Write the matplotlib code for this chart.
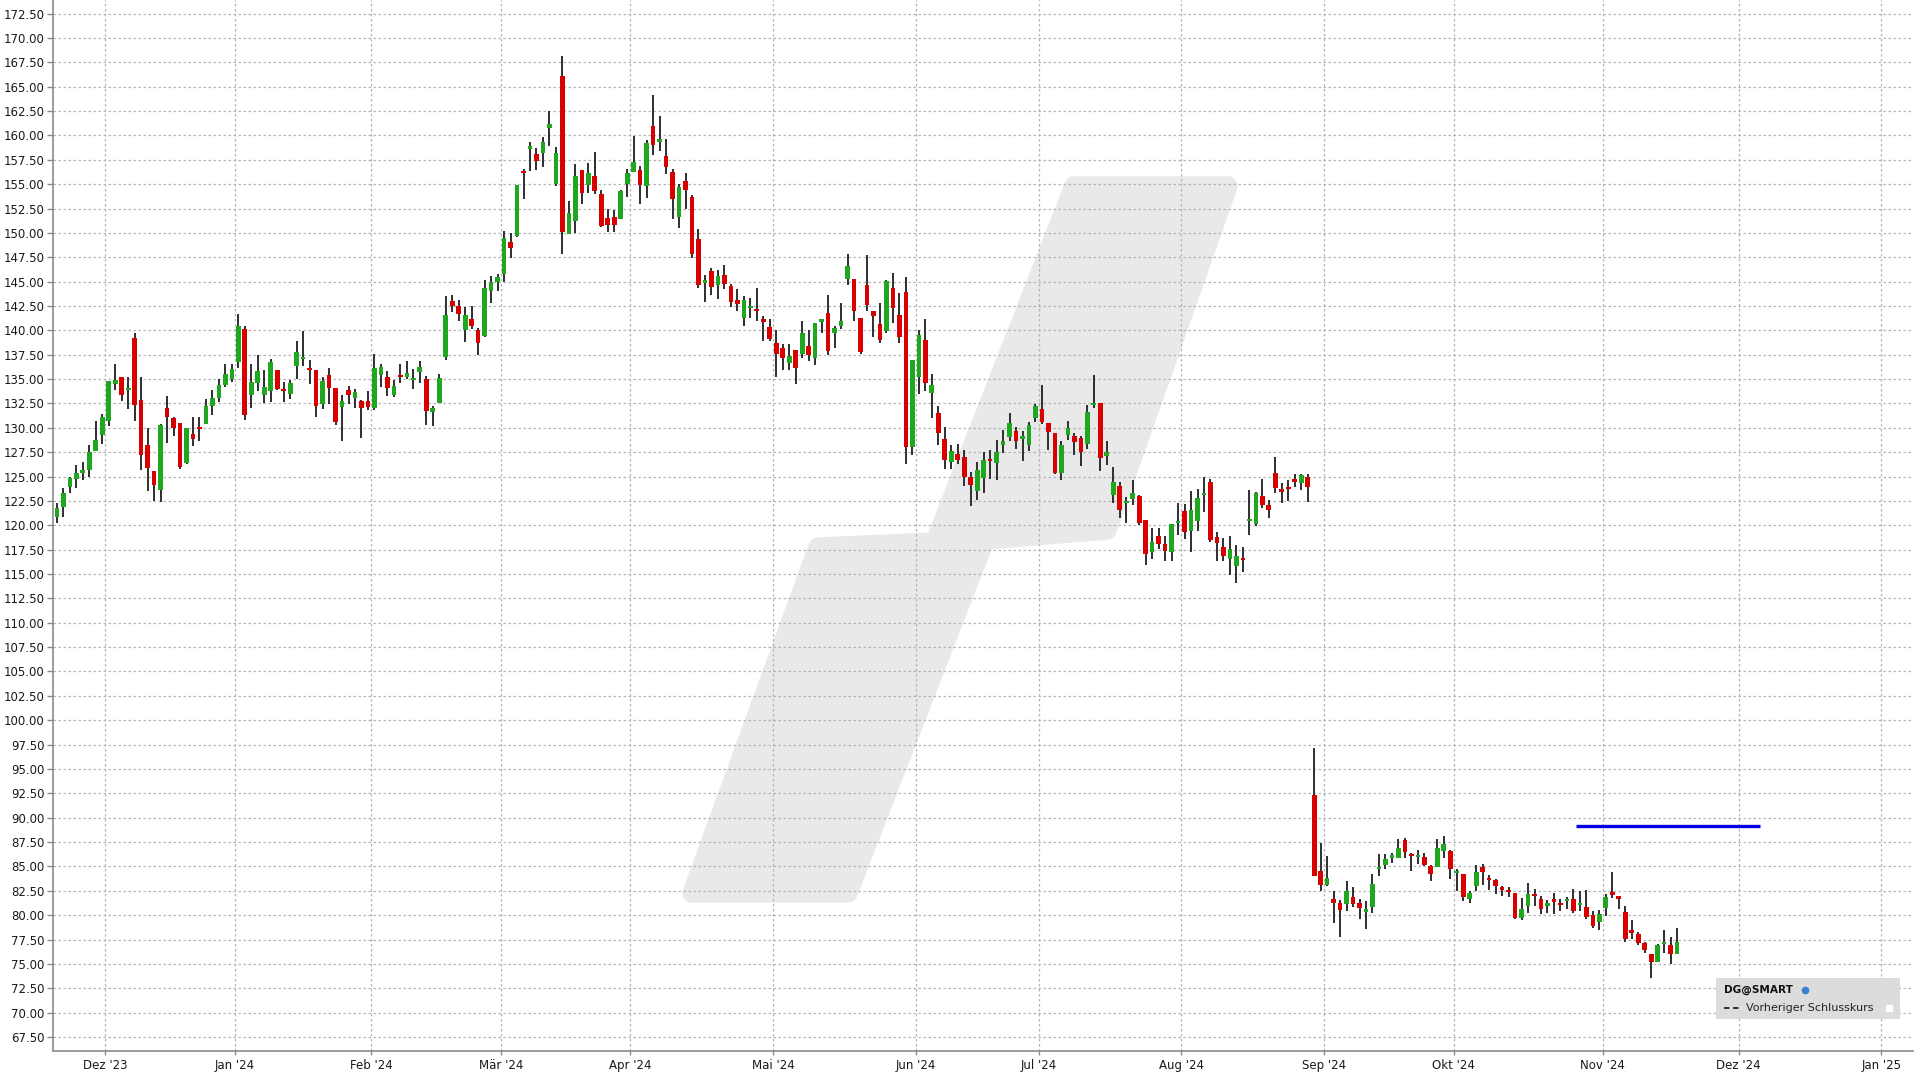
import matplotlib
matplotlib.use("Agg")
import matplotlib.pyplot as plt
from matplotlib.patches import Polygon, Rectangle
import numpy as np

# ---------------------------------------------------------------------------
# Data: daily OHLC, one entry per trading day (Nov 2023 - mid Nov 2024)
# ---------------------------------------------------------------------------
OPEN = [
    120.9, 121.9, 123.9, 124.7, 125.4, 125.7, 127.6, 129.3, 130.7, 134.5,
    135.2, 133.9, 139.2, 132.9, 128.2, 125.6, 123.6, 132.0, 131.0, 130.5,
    126.4, 129.4, 130.0, 130.4, 132.2, 133.1, 134.4, 135.0, 136.8, 140.1,
    133.4, 134.6, 133.4, 133.8, 135.9, 134.0, 133.5, 136.3, 137.1, 136.1,
    135.9, 132.4, 135.4, 134.1, 132.1, 133.9, 133.1, 132.8, 132.8, 132.0,
    135.4, 135.2, 133.4, 135.4, 135.2, 134.9, 135.7, 135.0, 131.6, 132.6,
    137.3, 143.0, 142.5, 140.0, 141.2, 140.0, 139.4, 144.0, 145.0, 145.8,
    149.1, 149.7, 156.2, 158.6, 158.1, 158.2, 160.8, 155.0, 166.1, 149.9,
    151.2, 156.5, 154.9, 155.8, 154.0, 151.5, 151.6, 151.4, 155.0, 156.3,
    156.5, 154.8, 161.0, 159.3, 157.9, 156.3, 151.6, 155.3, 153.7, 149.4,
    144.9, 146.1, 144.7, 145.7, 144.6, 143.1, 141.3, 142.3, 142.2, 141.1,
    140.3, 138.7, 138.2, 136.7, 138.0, 137.6, 138.4, 137.2, 140.9, 141.8,
    139.7, 140.5, 145.3, 145.3, 141.3, 144.7, 142.0, 140.7, 139.9, 144.4,
    141.6, 143.9, 128.0, 135.2, 139.0, 133.6, 131.5, 128.9, 126.5, 127.3,
    127.0, 125.0, 123.5, 124.9, 126.8, 126.4, 128.2, 129.1, 129.7, 128.9,
    128.2, 131.0, 131.9, 130.5, 129.5, 125.4, 129.3, 129.2, 129.0, 128.3,
    132.3, 132.5, 127.1, 123.1, 124.0, 122.3, 122.7, 123.0, 120.5, 117.3,
    118.9, 118.1, 117.3, 120.2, 121.5, 119.4, 120.4, 123.1, 124.4, 118.8,
    117.8, 116.5, 115.8, 116.6, 120.4, 120.1, 123.0, 122.1, 125.4, 123.7,
    123.9, 124.7, 124.3, 125.0, 92.3, 84.5, 83.1, 81.7, 81.2, 81.1,
    81.9, 81.2, 80.3, 80.8, 84.7, 85.1, 85.9, 85.9, 87.7, 86.3,
    86.0, 86.0, 85.0, 84.9, 86.6, 86.6, 84.3, 84.2, 81.7, 83.0,
    84.9, 83.8, 83.6, 82.9, 82.6, 82.3, 79.7, 80.9, 82.2, 81.7,
    80.9, 81.7, 81.2, 81.4, 81.7, 81.0, 80.8, 80.0, 79.3, 80.7,
    82.4, 82.0, 80.3, 78.5, 78.1, 77.1, 76.0, 75.2, 77.0, 76.9,
    76.0,
]
HIGH = [
    122.3, 123.8, 125.0, 126.2, 126.5, 128.2, 130.7, 131.4, 134.8, 136.5,
    135.2, 135.2, 139.7, 135.2, 130.0, 125.6, 130.4, 133.3, 131.1, 130.5,
    130.0, 131.1, 131.1, 133.0, 133.9, 135.0, 136.6, 136.6, 141.7, 140.4,
    136.5, 137.5, 135.9, 137.1, 135.9, 134.7, 134.9, 138.9, 139.9, 137.0,
    135.9, 135.2, 136.1, 134.1, 133.4, 134.3, 134.0, 132.9, 133.8, 137.6,
    136.6, 135.8, 134.9, 136.5, 136.9, 136.0, 136.9, 135.3, 132.2, 135.5,
    143.5, 143.6, 143.1, 142.4, 142.5, 140.2, 145.2, 145.6, 145.8, 150.2,
    150.0, 154.9, 156.6, 159.3, 158.7, 159.8, 162.5, 158.8, 168.2, 153.3,
    157.1, 156.5, 157.2, 158.3, 154.4, 152.5, 152.4, 154.4, 156.6, 159.9,
    156.9, 159.5, 164.2, 162.0, 159.6, 156.6, 155.0, 156.2, 153.9, 150.4,
    145.7, 146.4, 146.2, 146.7, 144.8, 144.2, 143.5, 143.3, 144.3, 141.5,
    141.2, 140.0, 138.6, 138.6, 138.0, 141.0, 140.0, 140.8, 141.2, 143.6,
    140.5, 142.8, 147.8, 145.3, 141.3, 147.7, 142.0, 142.8, 145.2, 145.9,
    143.8, 145.5, 137.0, 140.0, 141.2, 135.5, 132.2, 130.1, 128.2, 128.3,
    127.7, 125.5, 126.5, 127.5, 127.7, 128.8, 129.8, 131.5, 130.1, 129.7,
    130.6, 132.4, 134.4, 130.5, 129.5, 128.6, 130.7, 129.5, 129.2, 132.3,
    135.4, 132.5, 128.7, 126.0, 124.4, 122.9, 124.6, 123.1, 120.5, 119.7,
    119.7, 118.9, 120.1, 122.3, 122.2, 123.5, 123.7, 125.0, 124.7, 119.3,
    118.7, 118.9, 118.0, 117.8, 123.6, 123.4, 124.7, 122.6, 127.0, 124.3,
    124.6, 125.3, 125.3, 125.3, 97.1, 87.4, 86.1, 82.5, 81.6, 83.5,
    82.9, 81.7, 81.4, 84.2, 86.3, 86.3, 86.4, 87.8, 87.9, 86.4,
    86.7, 86.4, 85.1, 87.8, 88.1, 86.7, 84.7, 84.2, 82.5, 85.1,
    85.2, 84.1, 83.7, 83.0, 82.9, 82.3, 81.8, 83.3, 82.7, 82.0,
    81.6, 82.3, 81.7, 81.9, 82.7, 82.5, 82.6, 80.4, 80.5, 82.2,
    84.4, 82.0, 80.9, 79.5, 78.3, 77.2, 76.0, 77.0, 78.5, 77.8,
    78.7,
]
LOW = [
    120.2, 120.9, 123.3, 123.8, 124.6, 125.0, 127.6, 128.3, 130.2, 133.9,
    132.8, 131.9, 130.7, 125.7, 123.5, 122.5, 122.4, 128.4, 129.2, 125.8,
    126.3, 128.1, 128.6, 130.4, 131.3, 132.7, 134.2, 134.7, 136.1, 130.8,
    132.0, 133.8, 132.5, 132.7, 133.9, 132.7, 133.0, 135.0, 136.3, 134.5,
    131.1, 131.9, 132.4, 130.3, 128.7, 132.4, 132.0, 129.0, 131.8, 131.8,
    134.2, 133.3, 133.2, 134.6, 135.0, 134.0, 134.6, 130.3, 130.2, 132.5,
    137.0, 141.9, 141.0, 138.8, 140.1, 137.5, 139.3, 142.8, 144.0, 145.0,
    147.4, 149.6, 153.5, 156.4, 156.5, 156.8, 158.9, 154.8, 147.8, 149.9,
    150.0, 153.0, 154.1, 154.0, 150.6, 150.1, 150.1, 151.4, 153.7, 156.3,
    153.0, 153.6, 158.0, 158.4, 156.0, 151.4, 150.5, 152.5, 147.4, 144.4,
    142.9, 143.6, 143.2, 144.2, 142.4, 142.0, 140.5, 141.3, 141.0, 138.9,
    138.9, 135.2, 135.9, 135.9, 134.5, 137.2, 136.9, 136.4, 139.7, 137.5,
    138.2, 140.1, 144.7, 141.0, 137.6, 142.0, 139.3, 138.7, 139.7, 140.8,
    138.7, 126.3, 127.2, 133.5, 133.8, 131.0, 128.2, 125.8, 125.8, 126.3,
    124.0, 122.0, 122.6, 123.3, 124.8, 124.6, 127.4, 128.6, 127.8, 126.6,
    127.6, 130.6, 130.4, 127.7, 125.3, 124.6, 128.8, 127.2, 126.1, 127.8,
    132.0, 125.6, 126.2, 122.3, 120.7, 120.2, 122.1, 120.0, 115.9, 116.5,
    117.6, 116.3, 116.3, 119.0, 118.6, 117.3, 119.4, 121.4, 118.3, 116.3,
    116.3, 114.9, 114.1, 115.2, 119.0, 119.9, 121.8, 120.8, 123.3, 122.3,
    122.5, 123.9, 123.6, 122.4, 84.0, 82.5, 83.0, 79.2, 77.8, 80.4,
    80.8, 79.6, 78.6, 80.2, 84.0, 84.7, 85.3, 85.9, 85.9, 84.5,
    85.2, 85.0, 83.5, 84.9, 85.9, 83.7, 82.5, 81.5, 81.2, 82.5,
    83.1, 82.6, 82.2, 82.0, 81.9, 79.6, 79.5, 80.2, 80.9, 80.1,
    80.2, 80.1, 80.4, 80.6, 80.2, 80.4, 79.6, 78.7, 78.5, 79.9,
    81.8, 80.6, 77.2, 77.6, 76.9, 76.1, 73.6, 75.2, 76.1, 75.0,
    76.0,
]
CLOSE = [
    121.8, 123.3, 124.9, 125.4, 125.7, 127.5, 128.8, 131.1, 134.8, 134.9,
    133.4, 134.0, 132.3, 127.2, 125.9, 124.1, 130.3, 131.1, 130.0, 126.0,
    130.0, 128.9, 129.9, 132.2, 133.1, 134.4, 135.5, 136.0, 140.4, 131.3,
    134.7, 135.8, 134.2, 136.8, 134.0, 133.8, 134.6, 137.8, 137.2, 135.9,
    132.2, 134.8, 134.1, 130.6, 132.8, 133.4, 133.7, 132.0, 132.1, 136.1,
    136.2, 134.1, 134.3, 135.2, 135.6, 135.1, 136.2, 131.7, 132.0, 135.1,
    141.6, 142.5, 141.7, 141.6, 140.4, 138.7, 144.3, 145.0, 145.5, 149.5,
    148.5, 154.9, 156.1, 158.9, 157.4, 159.3, 161.2, 158.2, 150.1, 152.0,
    155.8, 154.1, 156.1, 154.3, 150.7, 150.8, 150.8, 154.3, 156.1, 157.3,
    154.9, 159.2, 159.0, 159.6, 156.8, 153.5, 154.7, 154.4, 147.8, 144.7,
    145.1, 144.5, 145.6, 144.8, 142.9, 142.7, 143.1, 142.5, 142.0, 140.9,
    139.1, 137.6, 137.2, 137.4, 136.1, 139.7, 137.5, 140.8, 141.0, 137.9,
    140.2, 141.0, 146.6, 142.0, 137.8, 142.6, 141.5, 139.0, 145.1, 142.3,
    139.3, 128.0, 137.0, 139.5, 134.6, 134.4, 129.5, 126.7, 127.6, 126.7,
    125.0, 124.1, 125.7, 126.7, 126.6, 127.5, 128.7, 130.5, 128.6, 129.0,
    130.3, 132.2, 130.6, 129.6, 125.4, 128.2, 130.0, 128.5, 127.5, 131.6,
    132.4, 126.9, 127.5, 124.4, 121.6, 122.4, 123.3, 120.2, 117.1, 118.3,
    118.1, 117.4, 120.1, 120.4, 119.3, 121.6, 122.8, 123.3, 118.5, 118.2,
    116.8, 117.6, 116.8, 116.4, 120.5, 123.3, 122.1, 121.6, 123.8, 123.4,
    123.7, 124.4, 125.2, 123.9, 84.0, 83.1, 83.8, 81.2, 80.5, 82.5,
    81.1, 80.7, 80.6, 83.2, 84.8, 85.8, 86.0, 86.9, 86.5, 86.1,
    86.1, 85.1, 84.2, 86.9, 87.3, 84.7, 84.5, 81.9, 82.3, 84.4,
    84.4, 83.6, 83.0, 82.6, 82.4, 79.7, 80.6, 82.2, 82.0, 80.6,
    81.2, 81.3, 81.0, 81.5, 80.4, 81.2, 79.8, 78.9, 80.1, 81.9,
    82.1, 81.7, 77.6, 78.2, 77.1, 76.4, 75.2, 76.9, 77.1, 76.0,
    77.2,
]

# index of the first trading day of every month shown on the x axis
MONTH_FIRST = [8, 28, 49, 69, 89, 111, 133, 152, 174, 196, 216, 239, 260, 282]
MONTH_LABELS = ["Dez '23", "Jan '24", "Feb '24", "M\u00e4r '24", "Apr '24", "Mai '24",
                "Jun '24", "Jul '24", "Aug '24", "Sep '24", "Okt '24", "Nov '24",
                "Dez '24", "Jan '25"]

# blue reference line (level, start index, end index)
REF_LEVEL = 89.15
REF_START = 234.4
REF_END = 262.8

Y_TICKS = np.arange(67.5, 172.51, 2.5)

# ---------------------------------------------------------------------------
# Style
# ---------------------------------------------------------------------------
GREEN = "#1fa81f"
RED = "#d90000"
WICK = "#2e2e2e"
GRID = "#b4b4b4"
SPINE = "#8a8a8a"
LOGO = "#e9e9e9"

W, H = 1920, 1080
AX_L, AX_R, AX_T, AX_B = 53, 1913, 0, 1051   # axes box in pixels


def px(x, y):
    """pixel position in the picture -> axes fraction"""
    return ((x - AX_L) / (AX_R - AX_L), (AX_B - y) / (AX_B - AX_T))


fig = plt.figure(figsize=(W / 100, H / 100), dpi=100)
ax = fig.add_axes([AX_L / W, 1 - AX_B / H, (AX_R - AX_L) / W, (AX_B - AX_T) / H])
ax.set_facecolor("white")

# ---- watermark logo -------------------------------------------------------
logo_pts = [px(1074, 186), px(1228, 186), px(1107, 530), px(985, 540),
            px(848, 893), px(692, 893), px(818, 547), px(935, 542)]
ax.add_patch(Polygon(logo_pts, closed=True, transform=ax.transAxes,
                     facecolor=LOGO, edgecolor=LOGO, linewidth=14,
                     joinstyle="round", zorder=0))

# ---- grid -----------------------------------------------------------------
ax.set_yticks(Y_TICKS)
ax.set_yticklabels([f"{v:.2f}" for v in Y_TICKS])
ax.set_xticks([m - 0.5 for m in MONTH_FIRST])
ax.set_xticklabels(MONTH_LABELS)
ax.grid(True, color=GRID, linewidth=0.9, linestyle=(0, (2, 2)), zorder=1)
ax.set_axisbelow(True)

# ---- candles --------------------------------------------------------------
o = np.array(OPEN)
h = np.array(HIGH)
lo = np.array(LOW)
c = np.array(CLOSE)
x = np.arange(len(o))
up = c >= o
colors = np.where(up, GREEN, RED)

ax.vlines(x, lo, h, color=WICK, linewidth=1.4, zorder=3)
body_bottom = np.minimum(o, c)
body_h = np.maximum(np.abs(c - o), 0.22)
ax.bar(x, body_h, bottom=body_bottom, width=0.72, color=colors,
       linewidth=0, zorder=4)

# ---- reference line -------------------------------------------------------
ax.hlines(REF_LEVEL, REF_START, REF_END, color="#0000e0", linewidth=2.4, zorder=5)

# ---- axes styling ---------------------------------------------------------
ax.set_xlim(-0.6, 286.4)
ax.set_ylim(66.06, 173.9)
for side in ("top", "right"):
    ax.spines[side].set_visible(False)
for side in ("left", "bottom"):
    ax.spines[side].set_color(SPINE)
    ax.spines[side].set_linewidth(1.2)
ax.tick_params(axis="y", length=4, width=1, color=SPINE, labelsize=8.5,
               labelcolor="#1a1a1a", pad=2)
ax.tick_params(axis="x", length=3, width=1, color=SPINE, labelsize=8.5,
               labelcolor="#1a1a1a", pad=3)

# ---- legend box -----------------------------------------------------------
box_x0, box_y0 = px(1716, 1019)
box_x1, box_y1 = px(1900, 978)
ax.add_patch(Rectangle((box_x0, box_y0), box_x1 - box_x0, box_y1 - box_y0,
                       transform=ax.transAxes, facecolor="#dcdcdc",
                       edgecolor="none", zorder=6))
tx, ty = px(1724, 990)
ax.text(tx, ty, "DG@SMART", transform=ax.transAxes, fontsize=7.6,
        fontweight="bold", color="#111111", va="center", ha="left", zorder=7)
gx, gy = px(1805, 990)
ax.plot([gx], [gy], marker="o", markersize=4.5, color="#3b7fd0",
        transform=ax.transAxes, zorder=7)
lx0, ly = px(1724, 1008)
lx1, _ = px(1741, 1008)
ax.plot([lx0, lx1], [ly, ly], color="#222222", linewidth=1.3,
        linestyle=(0, (3, 2)), transform=ax.transAxes, zorder=7)
tx2, _ = px(1746, 1008)
ax.text(tx2, ly, "Vorheriger Schlusskurs", transform=ax.transAxes,
        fontsize=8, color="#222222", va="center", ha="left", zorder=7)
sx, sy = px(1889, 1008)
ax.plot([sx], [sy], marker="s", markersize=4, color="white",
        transform=ax.transAxes, zorder=7)

fig.savefig("out.png", dpi=100, facecolor="white")
